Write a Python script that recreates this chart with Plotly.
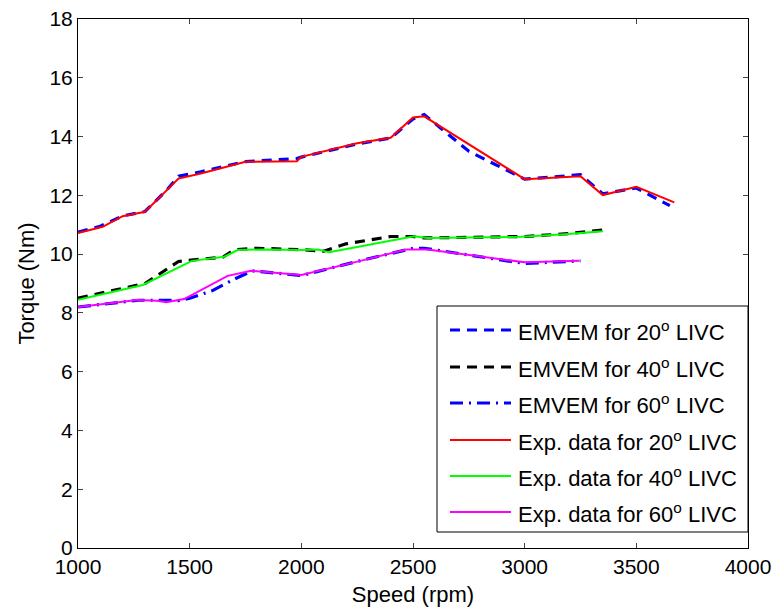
import plotly.graph_objects as go

# EMVEM for 20 deg LIVC
emv20_x = [1000, 1100, 1200, 1300, 1400, 1450, 1550, 1750, 1980, 2000, 2250, 2400, 2500, 2550, 2750, 3000, 3250, 3350, 3500, 3650]
emv20_y = [10.75, 10.95, 11.3, 11.45, 12.2, 12.65, 12.8, 13.15, 13.25, 13.3, 13.75, 13.95, 14.6, 14.75, 13.5, 12.55, 12.7, 12.05, 12.25, 11.65]

# EMVEM for 40 deg LIVC
emv40_x = [1000, 1300, 1450, 1650, 1700, 1800, 2000, 2100, 2200, 2400, 2500, 2550, 3000, 3200, 3350]
emv40_y = [8.5, 9.0, 9.75, 9.9, 10.15, 10.2, 10.15, 10.1, 10.35, 10.6, 10.6, 10.55, 10.6, 10.7, 10.82]

# EMVEM for 60 deg LIVC
emv60_x = [1000, 1270, 1380, 1450, 1500, 1600, 1700, 1780, 2000, 2250, 2500, 2550, 3000, 3250]
emv60_y = [8.2, 8.43, 8.43, 8.42, 8.5, 8.75, 9.15, 9.43, 9.27, 9.75, 10.2, 10.2, 9.68, 9.77]

# Experimental data
exp20_x = [1000, 1110, 1200, 1300, 1450, 1550, 1750, 1980, 2000, 2250, 2400, 2500, 2550, 3000, 3250, 3350, 3500, 3670]
exp20_y = [10.72, 10.93, 11.29, 11.44, 12.57, 12.74, 13.14, 13.16, 13.31, 13.77, 13.96, 14.65, 14.69, 12.55, 12.65, 12.01, 12.29, 11.76]

exp40_x = [1000, 1290, 1510, 1655, 1715, 1835, 2000, 2075, 2125, 2265, 2505, 2565, 2985, 3180, 3350]
exp40_y = [8.45, 8.95, 9.77, 9.91, 10.14, 10.16, 10.14, 10.16, 10.06, 10.27, 10.61, 10.55, 10.59, 10.68, 10.78]

exp60_x = [1000, 1265, 1355, 1395, 1475, 1670, 1775, 2000, 2265, 2470, 2565, 3000, 3245]
exp60_y = [8.2, 8.44, 8.41, 8.36, 8.47, 9.26, 9.43, 9.29, 9.77, 10.16, 10.16, 9.72, 9.77]

x_ticks = [1000, 1500, 2000, 2500, 3000, 3500, 4000]
y_ticks = [0, 2, 4, 6, 8, 10, 12, 14, 16, 18]

names = [
    "EMVEM for 20<sup>o</sup> LIVC",
    "EMVEM for 40<sup>o</sup> LIVC",
    "EMVEM for 60<sup>o</sup> LIVC",
    "Exp. data for 20<sup>o</sup> LIVC",
    "Exp. data for 40<sup>o</sup> LIVC",
    "Exp. data for 60<sup>o</sup> LIVC",
]

W, H = 775, 609
ML, MR, MT, MB = 78, 27, 19, 61
PW, PH = W - ML - MR, H - MT - MB

def px(xp):
    return (xp - ML) / PW

def py(yp):
    return (H - MB - yp) / PH

fig = go.Figure()
series = [
    (emv20_x, emv20_y, "#0000ff", 3.2, "10px,7px"),
    (emv40_x, emv40_y, "#000000", 3.2, "10px,7px"),
    (emv60_x, emv60_y, "#0000ff", 3.2, "13px,6px,2px,6px"),
    (exp20_x, exp20_y, "#ff0000", 2, "solid"),
    (exp40_x, exp40_y, "#00ff00", 2, "solid"),
    (exp60_x, exp60_y, "#ff00ff", 2, "solid"),
]
for i, (xs, ys, c, w, d) in enumerate(series):
    fig.add_trace(go.Scatter(x=xs, y=ys, mode="lines", name=names[i],
                             showlegend=False,
                             line=dict(color=c, width=w, dash=d)))

# custom legend (box, line samples, labels)
shapes = [dict(type="rect", xref="paper", yref="paper",
               x0=px(437), x1=px(748), y0=py(532), y1=py(306),
               line=dict(color="black", width=1), fillcolor="white", layer="above")]
annotations = []
row_y = [330, 367, 403, 440, 476, 512]
for i, (xs, ys, c, w, d) in enumerate(series):
    shapes.append(dict(type="line", xref="paper", yref="paper",
                       x0=px(450), x1=px(511), y0=py(row_y[i]), y1=py(row_y[i]),
                       line=dict(color=c, width=w, dash=d), layer="above"))
    annotations.append(dict(xref="paper", yref="paper", x=px(516), y=py(row_y[i] + 1),
                            text=names[i], showarrow=False, xanchor="left",
                            yanchor="middle", font=dict(size=22, color="black")))

font = "Liberation Sans, Arial, Helvetica, sans-serif"
fig.update_layout(
    width=W, height=H,
    margin=dict(l=ML, r=MR, t=MT, b=MB, autoexpand=False),
    paper_bgcolor="white", plot_bgcolor="white",
    font=dict(family=font, size=21, color="black"),
    showlegend=False,
    shapes=shapes,
    annotations=annotations,
    xaxis=dict(range=[1000, 4000], tickvals=x_ticks, ticks="inside", ticklen=5,
               showline=True, linecolor="black", linewidth=1, mirror="ticks",
               showgrid=False, zeroline=False, tickfont=dict(size=21), automargin=False,
               title=dict(text="Speed (rpm)", standoff=9, font=dict(size=22))),
    yaxis=dict(range=[0, 18], tickvals=y_ticks, ticks="inside", ticklen=5,
               showline=True, linecolor="black", linewidth=1, mirror="ticks",
               showgrid=False, zeroline=False, tickfont=dict(size=21), automargin=False,
               title=dict(text="Torque (Nm)", standoff=8, font=dict(size=22))),
)
fig.write_html("out.html")
